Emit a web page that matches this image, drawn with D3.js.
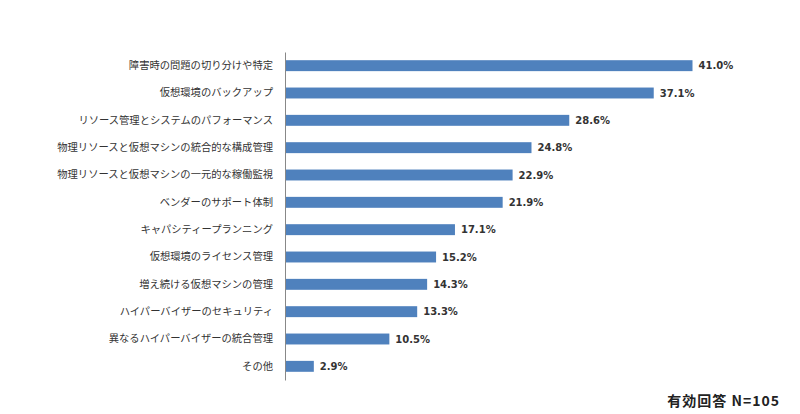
<!DOCTYPE html>
<html>
<head>
<meta charset="utf-8">
<script src="https://cdn.jsdelivr.net/npm/d3@7"></script>
<style>
  body { margin: 0; background: #fff; }
  svg { display: block; }
</style>
</head>
<body>
<svg id="chart" width="800" height="414"></svg>
<script>
var categories = [
  '障害時の問題の切り分けや特定',
  '仮想環境のバックアップ',
  'リソース管理とシステムのパフォーマンス',
  '物理リソースと仮想マシンの統合的な構成管理',
  '物理リソースと仮想マシンの一元的な稼働監視',
  'ベンダーのサポート体制',
  'キャパシティープランニング',
  '仮想環境のライセンス管理',
  '増え続ける仮想マシンの管理',
  'ハイパーバイザーのセキュリティ',
  '異なるハイパーバイザーの統合管理',
  'その他'
];
var values = [41.0, 37.1, 28.6, 24.8, 22.9, 21.9, 17.1, 15.2, 14.3, 13.3, 10.5, 2.9];
var note = '有効回答 N=105';

var svg = d3.select('#chart');

var x = d3.scaleLinear()
  .domain([0, 41])
  .range([285, 692.5]);

var y = d3.scaleBand()
  .domain(categories)
  .range([52, 380])
  .paddingInner(0.6)
  .paddingOuter(0.3);

// bars
svg.selectAll('rect.bar')
  .data(values)
  .enter()
  .append('rect')
  .attr('class', 'bar')
  .attr('x', x(0))
  .attr('y', function(d, i) { return y(categories[i]); })
  .attr('width', function(d) { return x(d) - x(0); })
  .attr('height', y.bandwidth())
  .attr('fill', '#4f81bd');

// category axis
var axis = svg.append('g')
  .attr('transform', 'translate(' + x(0) + ',0)')
  .call(d3.axisLeft(y).tickSize(0).tickPadding(12));

axis.select('.domain')
  .attr('stroke', '#888')
  .attr('stroke-width', 1);

axis.selectAll('text')
  .attr('fill', '#333')
  .style('font-family', '"Noto Sans CJK JP", sans-serif')
  .style('font-size', '10.3px');

// value labels
svg.selectAll('text.val')
  .data(values)
  .enter()
  .append('text')
  .attr('class', 'val')
  .attr('x', function(d) { return x(d) + 6; })
  .attr('y', function(d, i) { return y(categories[i]) + y.bandwidth() / 2; })
  .attr('dy', '0.35em')
  .attr('fill', '#333')
  .style('font-family', 'Verdana, "DejaVu Sans", sans-serif')
  .style('font-size', '10px')
  .style('font-weight', 'bold')
  .text(function(d) { return d.toFixed(1) + '%'; });

svg.append('text')
  .attr('x', 780)
  .attr('y', 401)
  .attr('dy', '0.35em')
  .attr('text-anchor', 'end')
  .attr('fill', '#222')
  .style('font-family', '"Noto Sans CJK JP", sans-serif')
  .style('font-size', '14px')
  .style('font-weight', 'bold')
  .style('letter-spacing', '1px')
  .text(note);
</script>
</body>
</html>
